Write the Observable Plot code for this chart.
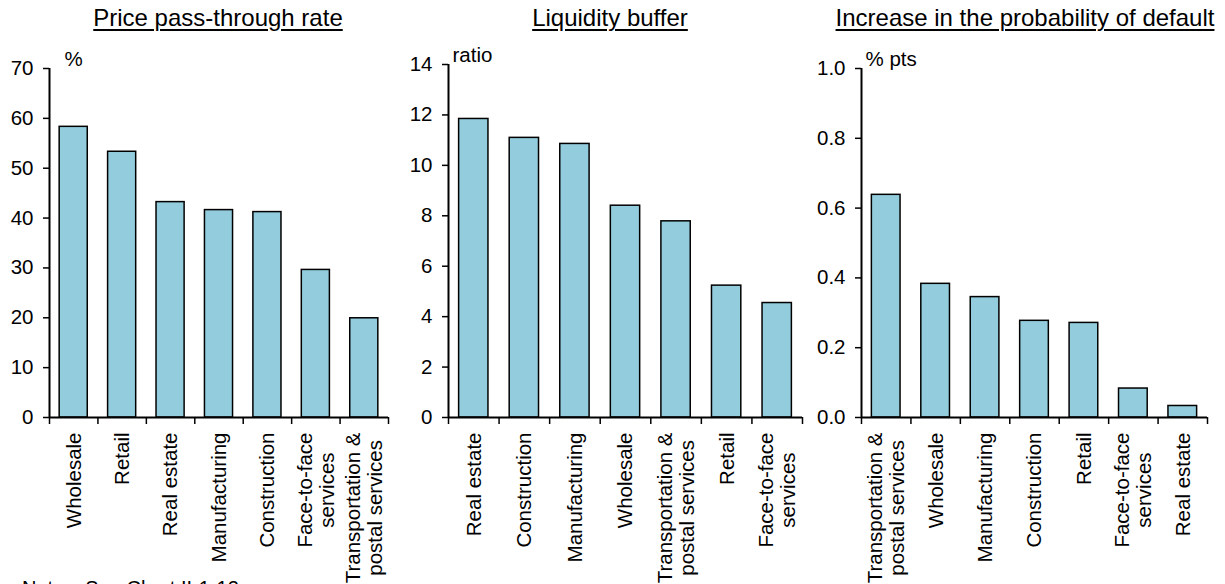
<!DOCTYPE html>
<html>
<head>
<meta charset="utf-8">
<script src="https://cdn.jsdelivr.net/npm/d3@7"></script>
<script src="https://cdn.jsdelivr.net/npm/@observablehq/plot@0.6"></script>
<style>
  html, body { margin: 0; padding: 0; background: #fff; width: 1225px; height: 584px; overflow: hidden; }
  body { font-family: "Liberation Sans", Arial, sans-serif; color: #000; position: relative; }
  .panel { position: absolute; top: 0; }
  .title { position: absolute; top: 3px; width: 420px; margin-left: -210px; font-size: 24px; line-height: 30px; text-align: center; white-space: nowrap; text-decoration: underline; text-underline-offset: 3px; text-decoration-thickness: 2px; }
  .plotwrap { position: absolute; top: 40px; left: 0; }
  .notes { position: absolute; left: 22px; top: 577px; font-size: 20px; white-space: nowrap; }
</style>
</head>
<body>
<div id="charts"></div>
<div class="notes">Notes: See Chart II-1-12.</div>
<script>
// ---- data ----
const ptTitle = "Price pass-through rate";
const ptUnit = "%";
const ptCategories = ["Wholesale", "Retail", "Real estate", "Manufacturing", "Construction", "Face-to-face\nservices", "Transportation &\npostal services"];
const ptValues = [58.3, 53.3, 43.2, 41.6, 41.2, 29.6, 19.9];
const ptTicks = [0, 10, 20, 30, 40, 50, 60, 70];

const lbTitle = "Liquidity buffer";
const lbUnit = "ratio";
const lbCategories = ["Real estate", "Construction", "Manufacturing", "Wholesale", "Transportation &\npostal services", "Retail", "Face-to-face\nservices"];
const lbValues = [11.84, 11.09, 10.85, 8.40, 7.78, 5.23, 4.54];
const lbTicks = [0, 2, 4, 6, 8, 10, 12, 14];

const pdTitle = "Increase in the probability of default";
const pdUnit = "% pts";
const pdCategories = ["Transportation &\npostal services", "Wholesale", "Manufacturing", "Construction", "Retail", "Face-to-face\nservices", "Real estate"];
const pdValues = [0.638, 0.383, 0.345, 0.277, 0.271, 0.083, 0.033];
const pdTicks = [0, 0.2, 0.4, 0.6, 0.8, 1.0];

const barColor = "#93CDDD";

const panels = [
  {title: ptTitle, unit: ptUnit, cats: ptCategories, vals: ptValues, ticks: ptTicks, fmt: d3.format("d"),
   left: 0, width: 400, ml: 49, mr: 12, mt: 28, unitDx: 15, titleCenter: 218},
  {title: lbTitle, unit: lbUnit, cats: lbCategories, vals: lbValues, ticks: lbTicks, fmt: d3.format("d"),
   left: 400, width: 412, ml: 48, mr: 10, mt: 24, unitDx: 4, titleCenter: 210},
  {title: pdTitle, unit: pdUnit, cats: pdCategories, vals: pdValues, ticks: pdTicks, fmt: d3.format(".1f"),
   left: 812, width: 413, ml: 49, mr: 18, mt: 28, unitDx: 4, titleCenter: 213}
];

const H = 544;
const MB = 167;
const FS = 20.5;
const root = document.getElementById("charts");

function centerLines(svg) {
  svg.querySelectorAll('g[aria-label="x-axis tick label"] text').forEach(t => {
    const spans = t.querySelectorAll("tspan");
    if (spans.length < 2) return;
    const ws = [...spans].map(s => s.getComputedTextLength());
    const m = Math.max(...ws);
    spans.forEach(s => {
      s.setAttribute("x", -m / 2);
      s.setAttribute("text-anchor", "middle");
    });
  });
}

panels.forEach(p => {
  const div = document.createElement("div");
  div.className = "panel";
  div.style.left = p.left + "px";
  div.style.width = p.width + "px";
  div.style.height = "584px";

  const t = document.createElement("div");
  t.className = "title";
  t.textContent = p.title;
  t.style.left = p.titleCenter + "px";
  div.appendChild(t);

  const data = p.cats.map((c, i) => ({cat: c, value: p.vals[i], i}));
  const n = p.cats.length;
  const inset = 0.21;

  const chart = Plot.plot({
    width: p.width,
    height: H,
    marginLeft: p.ml,
    marginRight: p.mr,
    marginTop: p.mt,
    marginBottom: MB,
    style: {fontFamily: "Liberation Sans, Arial, sans-serif", fontSize: FS + "px", color: "#000", background: "transparent", overflow: "visible"},
    x: {type: "linear", domain: [0, n], axis: null},
    y: {domain: [p.ticks[0], p.ticks[p.ticks.length - 1]], axis: null},
    marks: [
      Plot.rectY(data, {x1: d => d.i + inset, x2: d => d.i + 1 - inset, y1: 0, y2: "value", fill: barColor, stroke: "#000", strokeWidth: 1.5}),
      Plot.axisY(p.ticks, {label: null, tickSize: 6, tickPadding: 10, tickFormat: p.fmt, stroke: "#000", strokeWidth: 1.5, fontSize: FS}),
      Plot.axisX(d3.range(n + 1), {label: null, tickSize: 7, tickFormat: () => "", stroke: "#000", strokeWidth: 1.5}),
      Plot.axisX(d3.range(n).map(i => i + 0.5), {
        label: null, tickSize: 0, tickPadding: 15, tickRotate: -90, textAnchor: "end", lineAnchor: "middle",
        tickFormat: v => p.cats[Math.floor(v)], fontSize: FS, lineHeight: 1.05
      }),
      Plot.ruleX([0], {stroke: "#000", strokeWidth: 2}),
      Plot.ruleY([0], {stroke: "#000", strokeWidth: 2}),
      Plot.text([p.unit], {frameAnchor: "top-left", dx: p.unitDx, dy: -3, textAnchor: "start", lineAnchor: "bottom", fontSize: FS})
    ]
  });

  const wrap = document.createElement("div");
  wrap.className = "plotwrap";
  wrap.appendChild(chart);
  div.appendChild(wrap);
  root.appendChild(div);
  centerLines(chart);
});
</script>
</body>
</html>
